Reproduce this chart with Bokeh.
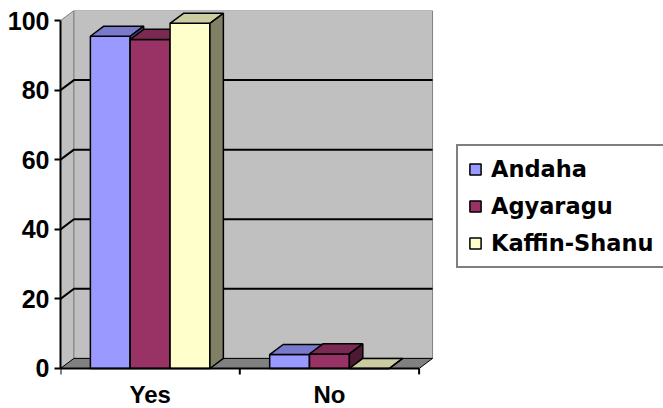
from bokeh.plotting import figure
from bokeh.models import Range1d, FixedTicker, Legend, LegendItem
from bokeh.core.properties import value
from bokeh.embed import file_html
from bokeh.resources import INLINE

# ---- data ----
categories = ["Yes", "No"]
series_names = ["Andaha", "Agyaragu", "Kaffin-Shanu"]
andaha = [95.5, 4.0]
agyaragu = [94.6, 4.2]
kaffin_shanu = [99.2, 0.0]
y_ticks = [0, 20, 40, 60, 80, 100]

series_values = [andaha, agyaragu, kaffin_shanu]

# ---- style ----
front_colors = ["#9999FF", "#993366", "#FFFFCC"]
top_colors = ["#7A7ACC", "#7A2952", "#CCCCA3"]
side_colors = ["#4D4D80", "#4D1A33", "#808066"]
WALL = "#C0C0C0"
FLOOR = "#808080"

DX = 0.075    # depth offset in x (category units)
DY = 2.9      # depth offset in y (value units)
GAP = 1 / 6
BW = 2 / 9
NCAT = len(categories)
YMAX = y_ticks[-1]
X_END = 3.363   # extra room on the right for the legend area
Y_START = -11.5  # room under the floor for the category axis
TICK = 1.7       # category tick length (value units)
CAT_LABEL_Y = -7.6

p = figure(width=663, height=408,
           x_range=Range1d(0, X_END), y_range=Range1d(Y_START, YMAX + DY),
           output_backend="svg", toolbar_location=None,
           min_border_left=60, min_border_right=0,
           min_border_top=10, min_border_bottom=0)
p.outline_line_color = None
p.xgrid.visible = False
p.ygrid.visible = False
p.xaxis.visible = False
p.background_fill_color = "white"
p.border_fill_color = "white"

# ---- walls & floor ----
p.patch([0, 0, DX, DX], [0, YMAX, YMAX + DY, DY],
        fill_color=WALL, line_color="#808080", line_width=1)
p.quad(left=[DX], right=[NCAT + DX], bottom=[DY], top=[YMAX + DY],
       fill_color=WALL, line_color="#808080", line_width=1)
p.patch([0, NCAT, NCAT + DX, DX], [0, 0, DY, DY],
        fill_color=FLOOR, line_color="black", line_width=1)

grid_vals = [t for t in y_ticks if 0 < t < YMAX]
p.multi_line(xs=[[0, DX, NCAT + DX] for _ in grid_vals],
             ys=[[t, t + DY, t + DY] for t in grid_vals],
             line_color="black", line_width=2)

# ---- 3D bars ----
legend_items = []
for si, vals in enumerate(series_values):
    x0s = [ci + GAP + si * BW for ci in range(NCAT)]
    x1s = [x + BW for x in x0s]
    front = p.quad(left=x0s, right=x1s, bottom=[0] * NCAT, top=vals,
                   fill_color=front_colors[si], line_color="black", line_width=1.5)
    top_xs = [[a, b, b + DX, a + DX] for a, b in zip(x0s, x1s)]
    top_ys = [[v, v, v + DY, v + DY] for v in vals]
    p.patches(top_xs, top_ys, fill_color=top_colors[si],
              line_color="black", line_width=1.5)
    side_xs = [[b, b, b + DX, b + DX] for b in x1s]
    side_ys = [[0, v, v + DY, DY] for v in vals]
    p.patches(side_xs, side_ys, fill_color=side_colors[si],
              line_color="black", line_width=1.5)
    legend_items.append(LegendItem(label=series_names[si], renderers=[front]))

# ---- category axis (drawn on the floor's front edge) ----
label_font = "Liberation Sans"
p.segment(x0=[0], y0=[0], x1=[NCAT], y1=[0], line_color="black", line_width=2)
p.segment(x0=list(range(NCAT + 1)), y0=[0] * (NCAT + 1),
          x1=list(range(NCAT + 1)), y1=[-TICK] * (NCAT + 1),
          line_color="black", line_width=2)
p.text(x=[ci + 0.5 for ci in range(NCAT)], y=[CAT_LABEL_Y] * NCAT, text=categories,
       text_align="center", text_baseline="middle",
       text_font=value(label_font), text_font_style="bold",
       text_font_size="24px", text_color="black")

# ---- value axis ----
ya = p.yaxis[0]
ya.ticker = FixedTicker(ticks=y_ticks, minor_ticks=[])
ya.bounds = (0, YMAX)
ya.axis_line_width = 2
ya.axis_line_color = "black"
ya.major_tick_line_color = "black"
ya.major_tick_line_width = 2
ya.major_tick_out = 6
ya.major_tick_in = 0
ya.major_label_standoff = 5
ya.major_label_text_font = label_font
ya.major_label_text_font_style = "bold"
ya.major_label_text_font_size = "25px"
ya.major_label_text_color = "black"

# ---- legend ----
legend = Legend(items=legend_items, location=(396, 140),
                border_line_color="black", border_line_width=2,
                background_fill_color="white", background_fill_alpha=1.0,
                glyph_width=14, glyph_height=14,
                label_text_font="DejaVu Sans", label_text_font_style="bold",
                label_text_font_size="22.5px", label_text_color="black",
                padding=10, spacing=11, label_standoff=9, margin=0)
p.add_layout(legend)

open("out.html", "w").write(file_html(p, INLINE))
